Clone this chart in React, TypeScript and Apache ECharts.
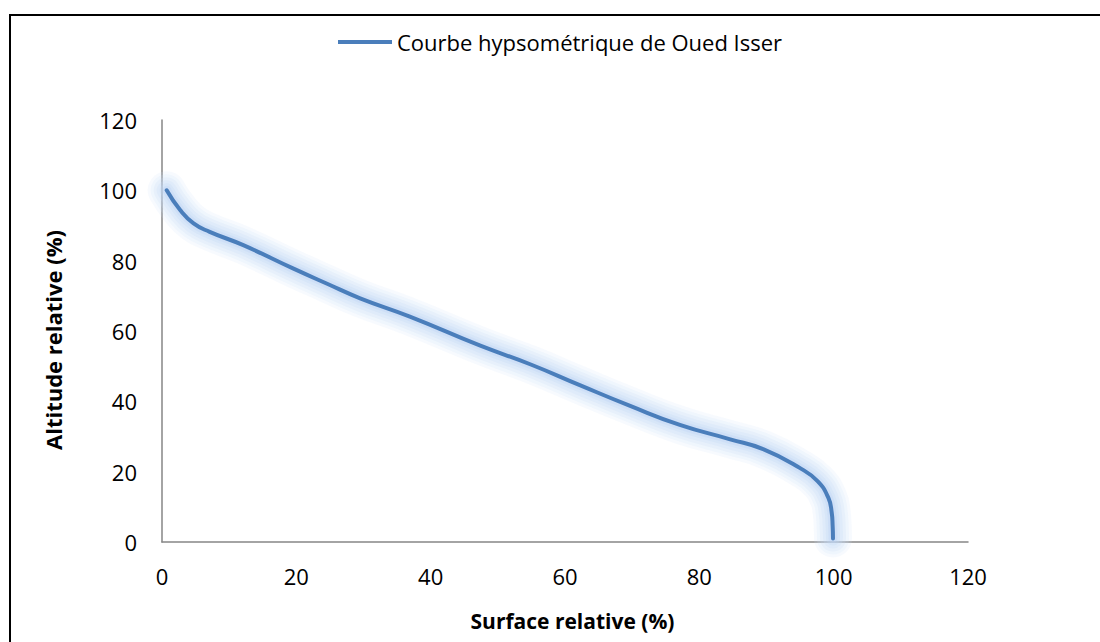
import React, { useEffect, useRef } from "react";
import * as echarts from "echarts";

const seriesName = "Courbe hypsométrique de Oued Isser";
const surfaceRel = [0.7, 2.7, 4.7, 7.1, 12.1, 19.5, 24.5, 29.5, 36.9, 47.3, 55.0, 62.2, 69.7, 77.1, 84.6, 89.5, 95.0, 97.6, 99.2, 99.7, 99.85, 99.9];
const altitudeRel = [100, 94.4, 90.6, 88.2, 84.4, 77.8, 73.5, 69.3, 64.1, 55.9, 50.4, 44.6, 38.7, 33.3, 29.2, 26.4, 21.0, 17.3, 12.6, 8.5, 4.5, 1.0];
const xTitle = "Surface relative (%)";
const yTitle = "Altitude relative (%)";

export default function App() {
  const ref = useRef<HTMLDivElement>(null);
  useEffect(() => {
    if (!ref.current) return;
    const chart = echarts.init(ref.current, null, { renderer: "svg" });
    const font = "'Open Sans', 'Noto Sans', sans-serif";
    const points = surfaceRel.map((x, i) => [x, altitudeRel[i]]);
    const glow = (width: number, color: string) => ({
      name: "glow",
      type: "line",
      data: points,
      smooth: 0.5,
      showSymbol: false,
      symbol: "none",
      silent: true,
      z: 1,
      lineStyle: { color, width, cap: "round", join: "round" },
    });
    chart.setOption({
      animation: false,
      backgroundColor: "#ffffff",
      textStyle: { fontFamily: font },
      grid: { left: 162, right: 132, top: 120, bottom: 100 },
      legend: {
        top: 26,
        left: 333,
        data: [seriesName],
        icon: "path://M0,0 L54,0 L54,4 L0,4 Z",
        itemWidth: 54,
        itemHeight: 4,
        itemGap: 4,
        textStyle: { fontSize: 22, color: "#000", fontFamily: font },
      },
      xAxis: {
        type: "value",
        min: 0,
        max: 120,
        interval: 20,
        name: xTitle,
        nameLocation: "middle",
        nameGap: 68,
        nameTextStyle: { fontSize: 21, fontWeight: "bold", color: "#000", fontFamily: font, padding: [0, 0, 0, 15] },
        axisLine: { show: true, lineStyle: { color: "#868686", width: 1.5 } },
        axisTick: { show: false },
        splitLine: { show: false },
        axisLabel: { fontSize: 22, color: "#000", margin: 23, fontFamily: font },
      },
      yAxis: {
        type: "value",
        min: 0,
        max: 120,
        interval: 20,
        name: yTitle,
        nameLocation: "middle",
        nameGap: 98,
        nameTextStyle: { fontSize: 22, fontWeight: "bold", color: "#000", fontFamily: font, padding: [0, 18, 0, 0] },
        axisLine: { show: true, lineStyle: { color: "#868686", width: 1.5 } },
        axisTick: { show: false },
        splitLine: { show: false },
        axisLabel: { fontSize: 22, color: "#000", margin: 25, fontFamily: font },
      },
      graphic: [
        {
          type: "rect",
          shape: { x: 10, y: 15, width: 1200, height: 800 },
          style: { fill: "none", stroke: "#000", lineWidth: 2 },
          silent: true,
        },
      ],
      series: [
        glow(38, "rgba(205,225,248,0.16)"),
        glow(32, "rgba(205,225,248,0.18)"),
        glow(26, "rgba(200,222,247,0.2)"),
        glow(20, "rgba(195,218,246,0.22)"),
        glow(14, "rgba(190,214,245,0.25)"),
        glow(9, "rgba(185,210,244,0.3)"),
        {
          name: seriesName,
          type: "line",
          data: points,
          smooth: 0.5,
          showSymbol: false,
          symbol: "none",
          z: 3,
          color: "#4a7ebb",
          lineStyle: {
            color: "#4a7ebb",
            width: 4,
            cap: "round",
            join: "round",
          },
        },
      ],
    });
    return () => chart.dispose();
  }, []);
  return (
    <div
      ref={ref}
      style={{ position: "absolute", left: 0, top: 0, width: 1100, height: 642 }}
    />
  );
}
